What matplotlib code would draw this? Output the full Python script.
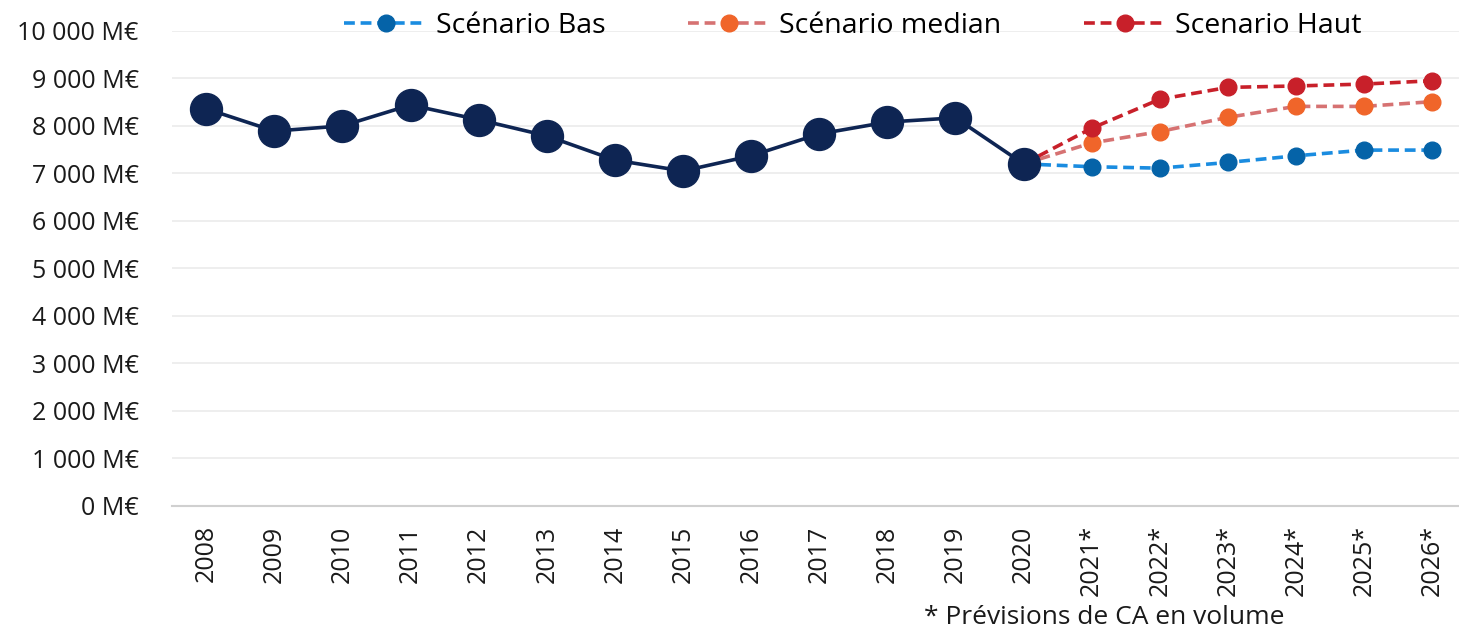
import matplotlib
matplotlib.use('Agg')
import matplotlib.pyplot as plt
from matplotlib.ticker import FuncFormatter

plt.rcParams['font.family'] = ['Open Sans', 'DejaVu Sans']

# Data (M€)
years_hist = ['2008', '2009', '2010', '2011', '2012', '2013', '2014',
              '2015', '2016', '2017', '2018', '2019', '2020']
ca_hist = [8360, 7890, 8000, 8440, 8130, 7790, 7280, 7050, 7370, 7830, 8080, 8170, 7200]

years_prev = ['2020', '2021*', '2022*', '2023*', '2024*', '2025*', '2026*']
scen_bas = [7200, 7140, 7110, 7230, 7370, 7490, 7490]
scen_median = [7200, 7640, 7880, 8180, 8410, 8410, 8510]
scen_haut = [7200, 7950, 8560, 8810, 8840, 8880, 8950]

all_years = years_hist + years_prev[1:]

NAVY = '#0e2553'
BAS_LINE, BAS_MK = '#1a8ce0', '#0563a8'
MED_LINE, MED_MK = '#d67272', '#f0652a'
HAUT_LINE, HAUT_MK = '#c8202a', '#c8202a'

fig = plt.figure(figsize=(14.59, 6.3), dpi=100)
ax = fig.add_axes([0.118, 0.197, 0.887, 0.754])

xh = [all_years.index(y) for y in years_hist]
xp = [all_years.index(y) for y in years_prev]

ax.plot(xp, scen_bas, linestyle='--', color=BAS_LINE, lw=2.6, dashes=(3, 1.6),
        marker='o', ms=12, mfc=BAS_MK, mec=BAS_MK, markevery=list(range(1, 7)),
        label='Scénario Bas', zorder=3)
ax.plot(xp, scen_median, linestyle='--', color=MED_LINE, lw=2.6, dashes=(3, 1.6),
        marker='o', ms=12, mfc=MED_MK, mec=MED_MK, markevery=list(range(1, 7)),
        label='Scénario median', zorder=3)
ax.plot(xp, scen_haut, linestyle='--', color=HAUT_LINE, lw=2.6, dashes=(3, 1.6),
        marker='o', ms=12, mfc=HAUT_MK, mec=HAUT_MK, markevery=list(range(1, 7)),
        label='Scenario Haut', zorder=3)
ax.plot(xh, ca_hist, color=NAVY, lw=2.6, marker='o', ms=23, mfc=NAVY, mec=NAVY, zorder=4)

ax.set_xlim(-0.5, len(all_years) - 0.5)
ax.set_ylim(0, 10000)
ax.set_yticks(range(0, 10001, 1000))
ax.yaxis.set_major_formatter(FuncFormatter(
    lambda v, p: '{:,.0f} M€'.format(v).replace(',', ' ')))
ax.set_xticks(range(len(all_years)))
ax.set_xticklabels(all_years, rotation=90)
ax.tick_params(axis='both', length=0, labelsize=18, colors='#1a1a1a')
ax.tick_params(axis='y', pad=24)
ax.tick_params(axis='x', pad=14)

ax.grid(axis='y', color='#ebebeb', lw=1.2)
ax.set_axisbelow(True)
for s in ['top', 'right', 'left']:
    ax.spines[s].set_visible(False)
ax.spines['bottom'].set_color('#d0d0d0')
ax.spines['bottom'].set_linewidth(1.5)

ax.legend(loc='center', bbox_to_anchor=(0.526, 1.01), ncol=3, frameon=False,
          fontsize=20.5, handlelength=2.9, columnspacing=2.9, handletextpad=0.3,
          markerscale=1.0, borderpad=0.2)

fig.text(0.757, 0.0, '* Prévisions de CA en volume', fontsize=19,
         ha='center', va='bottom', color='#1a1a1a')

fig.savefig('out.png', dpi=100, facecolor='white')
